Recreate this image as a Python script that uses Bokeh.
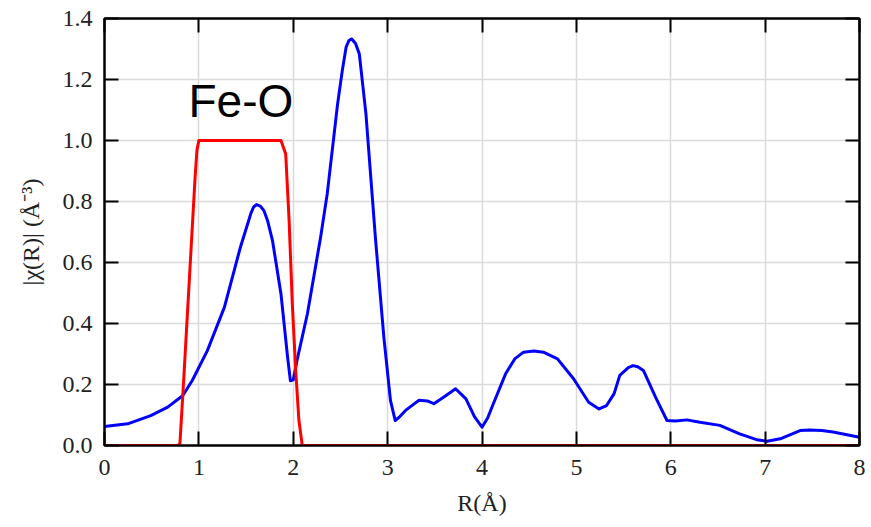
from bokeh.plotting import figure
from bokeh.models import Range1d, LinearAxis, FixedTicker
from bokeh.core.properties import value
from bokeh.embed import file_html
from bokeh.resources import INLINE

# |chi(R)| curve (blue)
r_chi = [0.0, 0.245, 0.49, 0.67, 0.83, 0.93, 1.09, 1.27, 1.44, 1.50, 1.55, 1.58, 1.61, 1.65,
         1.69, 1.73, 1.78, 1.87, 1.94, 1.97, 2.0, 2.04, 2.15, 2.29, 2.36, 2.47, 2.52, 2.56,
         2.59, 2.62, 2.66, 2.70, 2.77, 2.87, 2.96, 3.03, 3.08, 3.13, 3.19, 3.33, 3.42, 3.49,
         3.60, 3.72, 3.83, 3.92, 4.0, 4.06, 4.12, 4.25, 4.35, 4.44, 4.55, 4.65, 4.80, 4.97,
         5.13, 5.24, 5.32, 5.40, 5.46, 5.55, 5.60, 5.65, 5.71, 5.84, 5.96, 6.05, 6.17, 6.31,
         6.52, 6.73, 6.91, 7.02, 7.16, 7.37, 7.47, 7.60, 7.72, 8.0]
chi_mag = [0.062, 0.071, 0.098, 0.126, 0.164, 0.213, 0.311, 0.453, 0.65, 0.71, 0.76, 0.782,
           0.79, 0.785, 0.77, 0.735, 0.672, 0.497, 0.29, 0.212, 0.215, 0.279, 0.432, 0.683,
           0.825, 1.12, 1.23, 1.306, 1.328, 1.333, 1.318, 1.284, 1.088, 0.683, 0.355, 0.148,
           0.082, 0.095, 0.115, 0.148, 0.146, 0.137, 0.160, 0.186, 0.153, 0.095, 0.06, 0.09,
           0.137, 0.235, 0.285, 0.306, 0.310, 0.306, 0.284, 0.219, 0.142, 0.12, 0.131, 0.17,
           0.23, 0.255, 0.262, 0.258, 0.246, 0.158, 0.082, 0.080, 0.084, 0.076, 0.066, 0.038,
           0.019, 0.014, 0.022, 0.049, 0.051, 0.049, 0.044, 0.027]

# window function (red)
r_win = [0.0, 0.79, 0.80, 0.84, 0.88, 0.92, 0.96, 0.98, 1.0, 1.87, 1.92, 1.956, 1.99,
         2.026, 2.06, 2.087, 2.095, 8.0]
win = [0.0, 0.0, 0.01, 0.22, 0.44, 0.66, 0.88, 0.97, 1.0, 1.0, 0.956, 0.738, 0.465,
       0.246, 0.082, 0.02, 0.0, 0.0]

x_ticks = [0, 1, 2, 3, 4, 5, 6, 7, 8]
y_ticks = [0.0, 0.2, 0.4, 0.6, 0.8, 1.0, 1.2, 1.4]
y_tick_labels = {0.0: "0.0", 0.2: "0.2", 0.4: "0.4", 0.6: "0.6", 0.8: "0.8",
                 1.0: "1.0", 1.2: "1.2", 1.4: "1.4"}

annotation = "Fe-O"
ann_x, ann_y = 0.89, 1.131

p = figure(width=871, height=527, output_backend="svg", toolbar_location=None,
           x_range=Range1d(0, 8), y_range=Range1d(0, 1.4),
           min_border_left=104, min_border_right=12, min_border_top=18,
           min_border_bottom=82)
p.background_fill_color = "white"
p.border_fill_color = "white"
p.outline_line_color = "black"
p.outline_line_width = 2

p.xgrid.ticker = FixedTicker(ticks=x_ticks)
p.ygrid.ticker = FixedTicker(ticks=y_ticks)
for g in (p.xgrid, p.ygrid):
    g.grid_line_color = "#dadada"
    g.grid_line_width = 1.5

def style_axis(ax, show_labels, ticks):
    ax.axis_line_color = "black"
    ax.axis_line_width = 2
    ax.major_tick_line_color = "black"
    ax.major_tick_line_width = 2
    ax.major_tick_in = 14
    ax.major_tick_out = 0
    ax.minor_tick_line_color = None
    if show_labels:
        ax.major_label_text_font = "Liberation Serif"
        ax.major_label_text_font_size = "24px"
        ax.major_label_text_color = "#222222"
        ax.axis_label_text_font = "Liberation Serif"
        ax.axis_label_text_font_size = "24px"
        ax.axis_label_text_font_style = "normal"
        ax.axis_label_text_color = "#222222"
    else:
        ax.major_label_overrides = {t: "" for t in ticks}
        ax.major_label_standoff = 0

xa = p.xaxis[0]
xa.ticker = FixedTicker(ticks=x_ticks)
xa.axis_label = "R(Å)"
style_axis(xa, True, x_ticks)
xa.major_label_standoff = 14
xa.axis_label_standoff = 12

ya = p.yaxis[0]
ya.ticker = FixedTicker(ticks=y_ticks)
ya.major_label_overrides = y_tick_labels
ya.axis_label = "|χ(R)| (Å⁻³)"
style_axis(ya, True, y_ticks)
ya.major_label_standoff = 12
ya.axis_label_standoff = 16

top = LinearAxis(ticker=FixedTicker(ticks=x_ticks))
style_axis(top, False, x_ticks)
p.add_layout(top, "above")
right = LinearAxis(ticker=FixedTicker(ticks=y_ticks))
style_axis(right, False, y_ticks)
p.add_layout(right, "right")

p.line(r_chi, chi_mag, line_color="#0000ff", line_width=3, line_join="round")
p.line(r_win, win, line_color="#ff0000", line_width=3, line_join="round")

p.text(x=[ann_x], y=[ann_y], text=[annotation], text_font=value("Liberation Sans"),
       text_font_size="46px", text_color="black", text_baseline="alphabetic",
       text_align="left")

open("out.html", "w").write(file_html(p, INLINE))
